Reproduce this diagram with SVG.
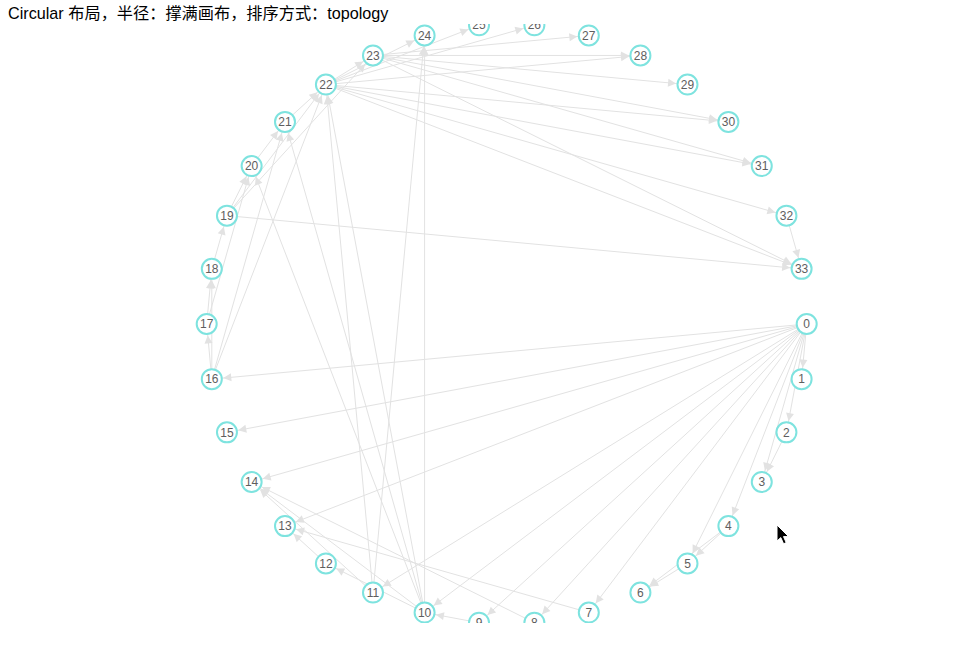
<svg xmlns="http://www.w3.org/2000/svg" width="959" height="659" viewBox="0 0 959 659">
<style>
.e{stroke:#e2e2e2;stroke-width:1;fill:none;marker-end:url(#arr)}
.n circle{fill:#fff;stroke:#7ee3df;stroke-width:2}
.n text{font-family:"Liberation Sans","Noto Sans",Arial,sans-serif;font-size:12px;fill:#5e5e5e;text-anchor:middle}
.title{font-family:"Liberation Sans","Noto Sans CJK SC",sans-serif;font-size:16.2px;fill:#000}
</style>
<defs>
<marker id="arr" viewBox="-10 -5 24 10" refX="11.5" refY="0" markerWidth="24" markerHeight="10" markerUnits="userSpaceOnUse" orient="auto">
<path d="M0,0 L-8,-4 L-8,4 Z" fill="#e2e2e2"/>
</marker>
<clipPath id="cv"><rect x="0" y="24" width="959" height="599"/></clipPath>
</defs>
<rect width="959" height="659" fill="#fff"/>
<text class="title" x="8" y="19">Circular 布局，半径：撑满画布，排序方式：topology</text>
<g clip-path="url(#cv)">
<g id="edges">
<line class="e" x1="806.7" y1="324" x2="801.59" y2="379.13"/>
<line class="e" x1="806.7" y1="324" x2="786.44" y2="432.37"/>
<line class="e" x1="806.7" y1="324" x2="761.77" y2="481.93"/>
<line class="e" x1="806.7" y1="324" x2="728.40" y2="526.11"/>
<line class="e" x1="806.7" y1="324" x2="687.49" y2="563.41"/>
<line class="e" x1="806.7" y1="324" x2="588.80" y2="612.55"/>
<line class="e" x1="806.7" y1="324" x2="534.38" y2="622.72"/>
<line class="e" x1="806.7" y1="324" x2="479.02" y2="622.72"/>
<line class="e" x1="806.7" y1="324" x2="424.60" y2="612.55"/>
<line class="e" x1="806.7" y1="324" x2="372.98" y2="592.55"/>
<line class="e" x1="806.7" y1="324" x2="285.00" y2="526.11"/>
<line class="e" x1="806.7" y1="324" x2="251.63" y2="481.93"/>
<line class="e" x1="806.7" y1="324" x2="226.96" y2="432.37"/>
<line class="e" x1="806.7" y1="324" x2="211.81" y2="379.13"/>
<line class="e" x1="786.44" y1="432.37" x2="761.77" y2="481.93"/>
<line class="e" x1="728.40" y1="526.11" x2="687.49" y2="563.41"/>
<line class="e" x1="728.40" y1="526.11" x2="640.42" y2="592.55"/>
<line class="e" x1="687.49" y1="563.41" x2="640.42" y2="592.55"/>
<line class="e" x1="588.80" y1="612.55" x2="285.00" y2="526.11"/>
<line class="e" x1="534.38" y1="622.72" x2="251.63" y2="481.93"/>
<line class="e" x1="479.02" y1="622.72" x2="424.60" y2="612.55"/>
<line class="e" x1="424.60" y1="612.55" x2="325.91" y2="84.59"/>
<line class="e" x1="424.60" y1="612.55" x2="251.63" y2="481.93"/>
<line class="e" x1="424.60" y1="612.55" x2="325.91" y2="563.41"/>
<line class="e" x1="424.60" y1="612.55" x2="424.60" y2="35.45"/>
<line class="e" x1="424.60" y1="612.55" x2="285.00" y2="121.89"/>
<line class="e" x1="424.60" y1="612.55" x2="251.63" y2="166.07"/>
<line class="e" x1="372.98" y1="592.55" x2="424.60" y2="35.45"/>
<line class="e" x1="372.98" y1="592.55" x2="325.91" y2="84.59"/>
<line class="e" x1="372.98" y1="592.55" x2="251.63" y2="481.93"/>
<line class="e" x1="325.91" y1="563.41" x2="285.00" y2="526.11"/>
<line class="e" x1="211.81" y1="379.13" x2="206.7" y2="324"/>
<line class="e" x1="211.81" y1="379.13" x2="211.81" y2="268.87"/>
<line class="e" x1="211.81" y1="379.13" x2="285.00" y2="121.89"/>
<line class="e" x1="211.81" y1="379.13" x2="325.91" y2="84.59"/>
<line class="e" x1="206.7" y1="324" x2="211.81" y2="268.87"/>
<line class="e" x1="206.7" y1="324" x2="251.63" y2="166.07"/>
<line class="e" x1="211.81" y1="268.87" x2="226.96" y2="215.63"/>
<line class="e" x1="226.96" y1="215.63" x2="251.63" y2="166.07"/>
<line class="e" x1="226.96" y1="215.63" x2="801.59" y2="268.87"/>
<line class="e" x1="226.96" y1="215.63" x2="325.91" y2="84.59"/>
<line class="e" x1="226.96" y1="215.63" x2="372.98" y2="55.45"/>
<line class="e" x1="251.63" y1="166.07" x2="285.00" y2="121.89"/>
<line class="e" x1="285.00" y1="121.89" x2="325.91" y2="84.59"/>
<line class="e" x1="325.91" y1="84.59" x2="424.60" y2="35.45"/>
<line class="e" x1="325.91" y1="84.59" x2="479.02" y2="25.28"/>
<line class="e" x1="325.91" y1="84.59" x2="534.38" y2="25.28"/>
<line class="e" x1="325.91" y1="84.59" x2="372.98" y2="55.45"/>
<line class="e" x1="325.91" y1="84.59" x2="640.42" y2="55.45"/>
<line class="e" x1="325.91" y1="84.59" x2="728.40" y2="121.89"/>
<line class="e" x1="325.91" y1="84.59" x2="761.77" y2="166.07"/>
<line class="e" x1="325.91" y1="84.59" x2="786.44" y2="215.63"/>
<line class="e" x1="325.91" y1="84.59" x2="801.59" y2="268.87"/>
<line class="e" x1="372.98" y1="55.45" x2="640.42" y2="55.45"/>
<line class="e" x1="372.98" y1="55.45" x2="588.80" y2="35.45"/>
<line class="e" x1="372.98" y1="55.45" x2="687.49" y2="84.59"/>
<line class="e" x1="372.98" y1="55.45" x2="728.40" y2="121.89"/>
<line class="e" x1="372.98" y1="55.45" x2="761.77" y2="166.07"/>
<line class="e" x1="372.98" y1="55.45" x2="801.59" y2="268.87"/>
<line class="e" x1="786.44" y1="215.63" x2="801.59" y2="268.87"/>
</g>
<g id="node-0" class="n"><circle cx="806.7" cy="324" r="10"/><text x="806.7" y="328.2">0</text></g>
<g id="node-1" class="n"><circle cx="801.59" cy="379.13" r="10"/><text x="801.59" y="383.33">1</text></g>
<g id="node-2" class="n"><circle cx="786.44" cy="432.37" r="10"/><text x="786.44" y="436.57">2</text></g>
<g id="node-3" class="n"><circle cx="761.77" cy="481.93" r="10"/><text x="761.77" y="486.13">3</text></g>
<g id="node-4" class="n"><circle cx="728.40" cy="526.11" r="10"/><text x="728.40" y="530.31">4</text></g>
<g id="node-5" class="n"><circle cx="687.49" cy="563.41" r="10"/><text x="687.49" y="567.61">5</text></g>
<g id="node-6" class="n"><circle cx="640.42" cy="592.55" r="10"/><text x="640.42" y="596.75">6</text></g>
<g id="node-7" class="n"><circle cx="588.80" cy="612.55" r="10"/><text x="588.80" y="616.75">7</text></g>
<g id="node-8" class="n"><circle cx="534.38" cy="622.72" r="10"/><text x="534.38" y="626.92">8</text></g>
<g id="node-9" class="n"><circle cx="479.02" cy="622.72" r="10"/><text x="479.02" y="626.92">9</text></g>
<g id="node-10" class="n"><circle cx="424.60" cy="612.55" r="10"/><text x="424.60" y="616.75">10</text></g>
<g id="node-11" class="n"><circle cx="372.98" cy="592.55" r="10"/><text x="372.98" y="596.75">11</text></g>
<g id="node-12" class="n"><circle cx="325.91" cy="563.41" r="10"/><text x="325.91" y="567.61">12</text></g>
<g id="node-13" class="n"><circle cx="285.00" cy="526.11" r="10"/><text x="285.00" y="530.31">13</text></g>
<g id="node-14" class="n"><circle cx="251.63" cy="481.93" r="10"/><text x="251.63" y="486.13">14</text></g>
<g id="node-15" class="n"><circle cx="226.96" cy="432.37" r="10"/><text x="226.96" y="436.57">15</text></g>
<g id="node-16" class="n"><circle cx="211.81" cy="379.13" r="10"/><text x="211.81" y="383.33">16</text></g>
<g id="node-17" class="n"><circle cx="206.7" cy="324" r="10"/><text x="206.7" y="328.2">17</text></g>
<g id="node-18" class="n"><circle cx="211.81" cy="268.87" r="10"/><text x="211.81" y="273.07">18</text></g>
<g id="node-19" class="n"><circle cx="226.96" cy="215.63" r="10"/><text x="226.96" y="219.83">19</text></g>
<g id="node-20" class="n"><circle cx="251.63" cy="166.07" r="10"/><text x="251.63" y="170.27">20</text></g>
<g id="node-21" class="n"><circle cx="285.00" cy="121.89" r="10"/><text x="285.00" y="126.09">21</text></g>
<g id="node-22" class="n"><circle cx="325.91" cy="84.59" r="10"/><text x="325.91" y="88.79">22</text></g>
<g id="node-23" class="n"><circle cx="372.98" cy="55.45" r="10"/><text x="372.98" y="59.65">23</text></g>
<g id="node-24" class="n"><circle cx="424.60" cy="35.45" r="10"/><text x="424.60" y="39.65">24</text></g>
<g id="node-25" class="n"><circle cx="479.02" cy="25.28" r="10"/><text x="479.02" y="29.48">25</text></g>
<g id="node-26" class="n"><circle cx="534.38" cy="25.28" r="10"/><text x="534.38" y="29.48">26</text></g>
<g id="node-27" class="n"><circle cx="588.80" cy="35.45" r="10"/><text x="588.80" y="39.65">27</text></g>
<g id="node-28" class="n"><circle cx="640.42" cy="55.45" r="10"/><text x="640.42" y="59.65">28</text></g>
<g id="node-29" class="n"><circle cx="687.49" cy="84.59" r="10"/><text x="687.49" y="88.79">29</text></g>
<g id="node-30" class="n"><circle cx="728.40" cy="121.89" r="10"/><text x="728.40" y="126.09">30</text></g>
<g id="node-31" class="n"><circle cx="761.77" cy="166.07" r="10"/><text x="761.77" y="170.27">31</text></g>
<g id="node-32" class="n"><circle cx="786.44" cy="215.63" r="10"/><text x="786.44" y="219.83">32</text></g>
<g id="node-33" class="n"><circle cx="801.59" cy="268.87" r="10"/><text x="801.59" y="273.07">33</text></g>
</g>
<path d="M777,525 L777,541 L780.8,537.6 L783.6,543.8 L786.2,542.6 L783.5,536.6 L788.6,536.6 Z" fill="#000" stroke="#fff" stroke-width="1"/>
</svg>
